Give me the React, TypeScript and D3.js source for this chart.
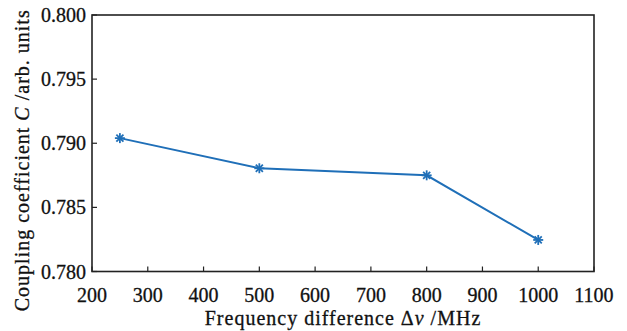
import React from "react";
import * as d3 from "d3";

const freqs = [250, 500, 800, 1000];
const coupling = [0.7904, 0.78805, 0.7875, 0.78246];
const xTicks = [200, 300, 400, 500, 600, 700, 800, 900, 1000, 1100];
const yTicks = [0.78, 0.785, 0.79, 0.795, 0.8];

const W = 627, H = 331;
const M = { left: 92, right: 594, top: 15, bottom: 271.5 };
const FONT = "'Liberation Serif', 'Times New Roman', serif";
const COLOR = "#1f6fb8";
const FS = 20;

function Star({ x, y }: { x: number; y: number }) {
  const r = 5;
  const angles = [0, 45, 90, 135];
  return (
    <g>
      {angles.map((a) => {
        const rad = (a * Math.PI) / 180;
        const dx = Math.cos(rad) * r, dy = Math.sin(rad) * r;
        return <line key={a} x1={x - dx} y1={y - dy} x2={x + dx} y2={y + dy} stroke={COLOR} strokeWidth={1.8} />;
      })}
    </g>
  );
}

export default function App() {
  const x = d3.scaleLinear().domain([200, 1100]).range([M.left, M.right]);
  const y = d3.scaleLinear().domain([0.78, 0.8]).range([M.bottom, M.top]);
  const line = d3.line<number>().x((_, i) => x(freqs[i])).y((d) => y(d));
  const tl = 5;
  const textStyle = { stroke: "#111", strokeWidth: 0.3 };
  const titleStyle = { stroke: "#111", strokeWidth: 0.3, letterSpacing: "1px" };
  return (
    <svg width={W} height={H} style={{ position: "absolute", left: 0, top: 0, background: "#fff" }}>
      <rect x={0} y={0} width={W} height={H} fill="#fff" />
      {xTicks.map((t) => (
        <g key={t}>
          <line x1={x(t)} x2={x(t)} y1={M.bottom} y2={M.bottom - tl} stroke="#222" strokeWidth={1.2} />
          <text x={x(t)} y={302} textAnchor="middle" fontFamily={FONT} fontSize={FS} fill="#111" style={textStyle}>{t}</text>
        </g>
      ))}
      {yTicks.map((t) => (
        <g key={t}>
          <line x1={M.left} x2={M.left + tl} y1={y(t)} y2={y(t)} stroke="#222" strokeWidth={1.2} />
          <text x={86} y={y(t) + 7} textAnchor="end" fontFamily={FONT} fontSize={FS} fill="#111" style={textStyle}>{t.toFixed(3)}</text>
        </g>
      ))}
      <rect x={M.left} y={M.top} width={M.right - M.left} height={M.bottom - M.top} fill="none" stroke="#222" strokeWidth={1.6} />
      <path d={line(coupling) || ""} fill="none" stroke={COLOR} strokeWidth={2} />
      {coupling.map((v, i) => (
        <Star key={i} x={x(freqs[i])} y={y(v)} />
      ))}
      <text x={(M.left + M.right) / 2} y={325} textAnchor="middle" fontFamily={FONT} fontSize={FS} fill="#111" style={titleStyle}>
        Frequency difference Δ<tspan fontStyle="italic">v</tspan> /MHz
      </text>
      <text transform={`translate(29, ${(M.top + M.bottom) / 2 + 17}) rotate(-90)`} textAnchor="middle" fontFamily={FONT} fontSize={FS} fill="#111" style={titleStyle}>
        Coupling coefficient <tspan fontStyle="italic">C</tspan> /arb. units
      </text>
    </svg>
  );
}
